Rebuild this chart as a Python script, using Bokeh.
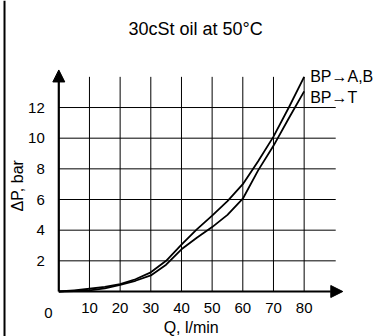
from bokeh.plotting import figure
from bokeh.models import FixedTicker, Label, Arrow, NormalHead, Range1d, Span
from bokeh.embed import file_html
from bokeh.resources import INLINE

# ---- data ----
flow_q = [0, 5, 10, 15, 20, 25, 30, 35, 40, 45, 50, 55, 60, 65, 70, 75, 80]
dp_bp_ab = [0, 0.08, 0.18, 0.3, 0.48, 0.8, 1.25, 2.0, 3.05, 4.05, 4.95, 5.9, 7.0, 8.5, 10.1, 12.0, 14.0]
dp_bp_t = [0, 0.03, 0.08, 0.2, 0.44, 0.7, 1.05, 1.75, 2.75, 3.5, 4.2, 5.0, 6.05, 7.9, 9.5, 11.3, 13.05]
x_ticks = [10, 20, 30, 40, 50, 60, 70, 80]
y_ticks = [2, 4, 6, 8, 10, 12]
series_labels = ["BP\u2192A,B", "BP\u2192T"]
title_text = "30cSt oil at 50\u00b0C"
x_title = "Q,  l/min"
y_title = "\u0394P,  bar"

TECH = "Liberation Sans"

X0, X1 = -19.01, 105.55   # canvas edges in data units
Y0, Y1 = -2.935, 18.98
GRID_X_END, GRID_Y_END = 90.3, 14.0

p = figure(width=382, height=336, output_backend="svg", toolbar_location=None,
           x_range=Range1d(X0, X1), y_range=Range1d(Y0, Y1),
           min_border_left=0, min_border_right=0, min_border_top=0, min_border_bottom=0)
p.outline_line_color = None
p.background_fill_color = "white"
p.border_fill_color = "white"
p.grid.visible = False

# axes: tick labels only, fixed at the origin inside the frame
p.xaxis.ticker = FixedTicker(ticks=x_ticks)
p.yaxis.ticker = FixedTicker(ticks=y_ticks)
p.xaxis.fixed_location = 0
p.yaxis.fixed_location = 0
for ax in (p.xaxis, p.yaxis):
    ax.axis_line_color = None
    ax.major_tick_line_color = None
    ax.minor_tick_line_color = None
    ax.major_label_text_font = TECH
    ax.major_label_text_font_size = "15px"
    ax.major_label_text_color = "black"
p.xaxis.major_label_standoff = 5
p.yaxis.major_label_standoff = 8

# grid lines
p.segment(x0=x_ticks, y0=[0] * len(x_ticks), x1=x_ticks, y1=[GRID_Y_END] * len(x_ticks),
          line_color="black", line_width=1)
p.segment(x0=[0] * len(y_ticks), y0=y_ticks, x1=[GRID_X_END] * len(y_ticks), y1=y_ticks,
          line_color="black", line_width=1)

# curves
p.line(flow_q, dp_bp_ab, line_width=1.8, line_color="black", line_join="round")
p.line(flow_q, dp_bp_t, line_width=1.8, line_color="black", line_join="round")

# axis arrows
p.add_layout(Arrow(x_start=0, y_start=0, x_end=92.6, y_end=0, line_width=2.2, line_color="black",
                   end=NormalHead(size=12, fill_color="black", line_color="black", line_width=1)))
p.add_layout(Arrow(x_start=0, y_start=0, x_end=0, y_end=14.45, line_width=2.2, line_color="black",
                   end=NormalHead(size=12, fill_color="black", line_color="black", line_width=1)))

# left frame line of the drawing sheet
p.add_layout(Span(location=-17.7, dimension="height", line_color="black", line_width=2))

# origin label
p.add_layout(Label(x=-3.36, y=-1.37, text="0", text_font=TECH, text_font_size="15px",
                   text_align="center", text_baseline="alphabetic", text_color="black"))

# series labels
p.add_layout(Label(x=flow_q[-1], y=dp_bp_ab[-1], x_offset=6, y_offset=0, text=series_labels[0],
                   text_font=TECH, text_font_size="16px", text_align="left",
                   text_baseline="alphabetic", text_color="black"))
p.add_layout(Label(x=flow_q[-1], y=dp_bp_t[-1], x_offset=6, y_offset=-6, text=series_labels[1],
                   text_font=TECH, text_font_size="16px", text_align="left",
                   text_baseline="alphabetic", text_color="black"))

# title
p.add_layout(Label(x=44.6, y=17.15, text=title_text, text_font="Liberation Sans",
                   text_font_size="18px", text_align="center", text_baseline="alphabetic",
                   text_color="black"))

# axis titles
p.add_layout(Label(x=43.9, y=-2.38, text=x_title, text_font=TECH, text_font_size="16px",
                   text_align="center", text_baseline="alphabetic", text_color="black"))
p.add_layout(Label(x=-13.47, y=7.04, text=y_title, text_font=TECH, text_font_size="16px",
                   text_align="center", text_baseline="middle", angle=1.5708, text_color="black"))

open("out.html", "w").write(file_html(p, INLINE))
